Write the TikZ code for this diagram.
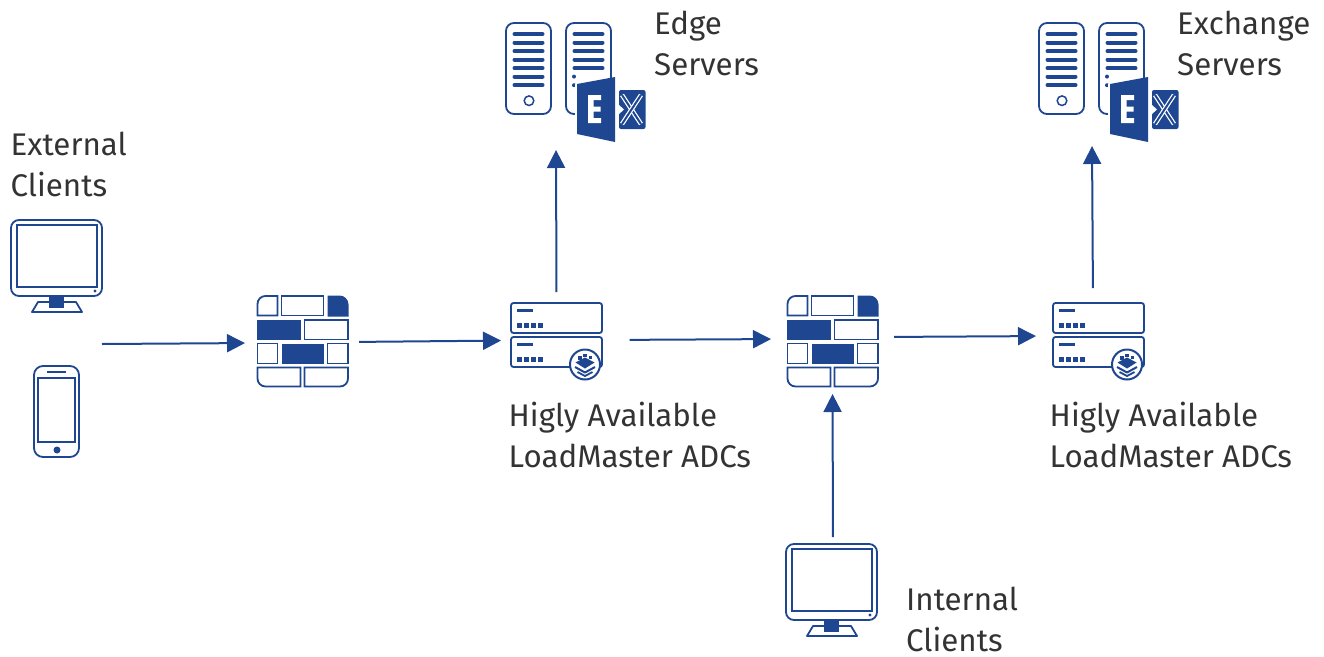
\documentclass[tikz,border=0pt]{standalone}
\usepackage{fontspec}
\setmainfont{Fira Sans}
\usetikzlibrary{arrows.meta,positioning}
\definecolor{kblue}{HTML}{1F4690}
\definecolor{ktext}{HTML}{333333}
\tikzset{%
  icon/.style   = {inner sep=0pt, outer sep=0pt},%
  label/.style  = {inner sep=0pt, anchor=north west, align=left, text=ktext,%
                   font=\fontsize{31.3}{41}\selectfont},%
  link/.style   = {draw=kblue, line width=2pt, -{Triangle[length=18pt,width=18pt]}},%
  line/.style   = {draw=kblue, line width=1.8pt},%
  bar/.style    = {draw=kblue, line width=4pt},%
  monitor/.pic  = {%
    \draw[line, rounded corners=8pt] (0,0) rectangle (91,76);%
    \draw[line] (6,5) rectangle (86,67);%
    \fill[kblue] (84,71) circle (1.7);%
    \draw[line, line join=round] (27,82) -- (21,92) -- (71,92) -- (65,82) -- cycle;%
    \fill[kblue] (38,76) rectangle (53,88);%
  },%
  phone/.pic    = {%
    \draw[line, rounded corners=9pt] (0,0) rectangle (45,91);%
    \draw[line] (4,12) rectangle (41,76);%
    \draw[line] (13,6) -- (32,6);%
    \fill[kblue] (23,84) circle (3.5);%
  },%
  wall/.pic     = {%
    \draw[line] (21,20) -- (21,0.5) [rounded corners=8pt] -- (1,0.5) [sharp corners] -- (1,20) -- cycle;%
    \draw[line] (25,0.5) rectangle (67,20);%
    \fill[kblue] (71,21) -- (71,0) [rounded corners=9pt] -- (92,0) [sharp corners] -- (92,21) -- cycle;%
    \fill[kblue] (0,24) rectangle (44,44);%
    \draw[line] (48,24.5) rectangle (91.5,44);%
    \draw[line] (1,48) rectangle (21,68);%
    \fill[kblue] (25,48) rectangle (67,68);%
    \draw[line] (71,48) rectangle (91.5,68);%
    \draw[line] (1,72) [rounded corners=8pt] -- (1,91) [sharp corners] -- (44,91) -- (44,72) -- cycle;%
    \draw[line] (48,72) -- (48,91) [rounded corners=8pt] -- (91.5,91) [sharp corners] -- (91.5,72) -- cycle;%
  },%
  unit/.pic     = {%
    \draw[line, rounded corners=2.5pt] (0,0) rectangle (91,30);%
    \fill[kblue] (6,5.5) rectangle (22,9);%
    \foreach \dotx in {6,13,20,27}%
      \fill[kblue] (\dotx,20) rectangle ++(4.5,4.5);%
  },%
  adc/.pic      = {%
    \pic at (0,0) {unit};%
    \pic at (0,34) {unit};%
    \draw[line, line width=2pt, fill=white] (74,61.5) circle (15);%
    \draw[kblue, line width=2pt, line join=round] (64,64) -- (74,69.5) -- (84,64);%
    \draw[kblue, line width=1.8pt, line join=round] (66.5,69) -- (74,73) -- (81.5,69);%
    \fill[kblue] (64.5,59.5) -- (74,54.5) -- (83.5,59.5) -- (74,65.5) -- cycle;%
    \fill[kblue] (72,50.5) rectangle ++(3.5,3.5);%
    \fill[kblue] (77.5,52.5) rectangle ++(3.5,3.5);%
    \fill[kblue] (67,53) rectangle ++(3.5,3.5);%
  },%
  tower/.pic    = {%
    \draw[line, rounded corners=8pt] (0,0) rectangle (45,91);%
  },%
  exchange/.pic = {%
    \pic at (0,0) {tower};%
    \foreach \bary in {11,19.6,28.2,36.6,45.2,53.6,62.2}%
      \draw[bar, line cap=round] (8.5,\bary) -- (36.5,\bary);%
    \draw[line, line width=1.5pt] (23,77.7) circle (4.8);%
    \pic at (60,0) {tower};%
    \foreach \bary in {11,19.6,28.2,36.6,45.2}%
      \draw[bar, line cap=round] (68.5,\bary) -- (96.5,\bary);%
    \foreach \bary in {53.6,62.2}%
      \fill[kblue] (68,\bary) circle (2);%
    % door of the logo
    \fill[white] (69,61) rectangle (112,122);%
    \fill[kblue] (71,61) -- (109,54) -- (109,119) -- (71,111) -- cycle;%
    \fill[white] (82,72) -- (95,72) -- (95,77) -- (87.5,77) -- (87.5,83.7) -- (94.5,83.7) -- (94.5,88.7)%
      -- (87.5,88.7) -- (87.5,95) -- (95,95) -- (95,100) -- (82,100) -- cycle;%
    \fill[kblue, rounded corners=2pt] (113,67) rectangle (139.5,106);%
    \draw[white, line width=4.5pt] (116,72) -- (135,101);%
    \draw[kblue, line width=2pt] (116,72) -- (135,101);%
    \draw[white, line width=4.5pt] (135,72) -- (116,101);%
    \draw[kblue, line width=2pt] (135,72) -- (116,101);%
    \fill[white] (113,82) -- (118,86.5) -- (113,91) -- cycle;%
  }%
}
\begin{document}
\begin{tikzpicture}[x=1pt, y=-1pt]
	\useasboundingbox (0,0) rectangle (1324,656);
	% icons, each with a box of its own
	\node[icon, minimum width=91pt, minimum height=238pt] (clients) at (56.5,339) {};
	\node[icon, minimum width=92pt, minimum height=92pt] (wallA) at (302.5,341) {};
	\node[icon, minimum width=92pt, minimum height=64pt] (adcA) at (556.5,335) {};
	\node[icon, minimum width=92pt, minimum height=92pt] (wallB) at (832.5,341) {};
	\node[icon, minimum width=92pt, minimum height=64pt] (adcB) at (1098.5,335) {};
	\node[icon, minimum width=139pt, minimum height=120pt] (edge) at (575.5,83) {};
	\node[icon, minimum width=139pt, minimum height=120pt] (mail) at (1108.5,83) {};
	\node[icon, minimum width=91pt, minimum height=92pt] (inner) at (831,590) {};
	\pic at (11,220) {monitor};
	\pic at (34,366) {phone};
	\pic at (256.5,295.5) {wall};
	\pic at (786.5,295.5) {wall};
	\pic at (511,303) {adc};
	\pic at (1053,303) {adc};
	\pic at (506,23) {exchange};
	\pic at (1039,23) {exchange};
	\pic at (786,544) {monitor};
	% labels
	\node[label] (lblext) at (10.5,131.5) {External\\Clients};
	\node[label] (lbledge) at (654,11) {Edge\\Servers};
	\node[label] (lblmail) at (1177,11) {Exchange\\Servers};
	\node[label] (lbladcA) at (508.5,402) {Higly Available\\LoadMaster ADCs};
	\node[label] (lbladcB) at (1049.5,402) {Higly Available\\LoadMaster ADCs};
	\node[label] (lblint) at (906,587) {Internal\\Clients};
	% arrows
	\draw[link, shorten >=11.5pt] ([yshift=-5pt]clients.east) -- ([yshift=-2pt]wallA.west);
	\draw[link, shorten <=10.5pt, shorten >=9.5pt] ([yshift=-1pt]wallA.east) -- ([yshift=-5.5pt]adcA.west);
	\draw[link, shorten <=11pt, shorten >=7pt] (adcA.north) -- ([xshift=-19.5pt]edge.south);
	\draw[link, shorten <=27pt, shorten >=15.5pt] ([yshift=-5pt]adcA.east) -- ([yshift=2pt]wallB.west);
	\draw[link, shorten <=15.5pt, shorten >=16.5pt] ([yshift=4pt]wallB.east) -- ([yshift=-1pt]adcB.west);
	\draw[link, shorten <=15pt, shorten >=3pt] ([xshift=-5.5pt]adcB.north) -- ([xshift=-16.5pt]mail.south);
	\draw[link, shorten <=7pt, shorten >=7pt] ([xshift=2pt]inner.north) -- (wallB.south);
\end{tikzpicture}
\end{document}
